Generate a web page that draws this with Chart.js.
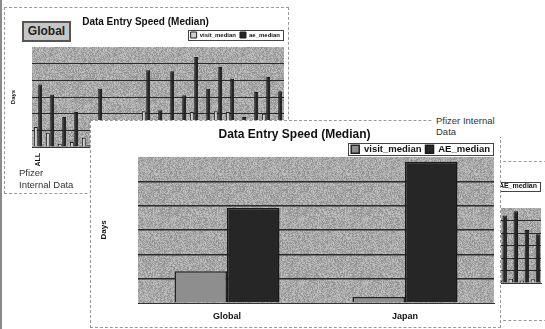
<!DOCTYPE html>
<html><head><meta charset="utf-8">
<script src="https://cdn.jsdelivr.net/npm/chart.js@4.4.1/dist/chart.umd.min.js"></script>
<style>
html,body{margin:0;padding:0;background:#fff;width:545px;height:329px;overflow:hidden;position:relative;font-family:"Liberation Sans",Arial,sans-serif;}
.abs{position:absolute;}
.frame{position:absolute;border:1px dashed #9a9a9a;background:#fff;box-sizing:border-box;}
canvas{display:block}
</style></head><body>

<div class="abs" style="left:0;top:0;width:2px;height:329px;background:#8a8a8a"></div>

<!-- background chart, top left -->
<div class="frame" style="left:4px;top:7px;width:285px;height:187px;z-index:1">
  <div class="abs" style="left:0;top:0;width:283px;height:185px"><canvas id="leftChart"></canvas></div>
  <div class="abs" style="left:17px;top:13px;width:45px;height:17px;border:2px solid #555;background:#c6c6c6;font-weight:bold;font-size:12px;line-height:17px;text-align:center;color:#222">Global</div>
  <div class="abs" style="left:14px;top:159px;font-size:9.5px;line-height:11.5px;color:#333">Pfizer<br>Internal Data</div>
</div>

<!-- background chart, right -->
<div class="frame" style="left:498px;top:161px;width:80px;height:160px;z-index:1"></div>
<div class="abs" style="left:400px;top:162px;width:145px;height:135px;z-index:2"><canvas id="rightChart"></canvas></div>

<!-- front chart -->
<div class="frame" style="left:90px;top:120px;width:411px;height:208px;z-index:3">
  <div class="abs" style="left:0;top:0;width:409px;height:206px"><canvas id="mainChart"></canvas></div>
</div>
<div class="abs" style="left:433px;top:115px;width:68px;font-size:9.5px;line-height:11px;color:#333;background:#fff;z-index:4;padding-left:3px">Pfizer Internal<br>Data</div>

<script>
// ---------------- data ----------------
const mainCategories = ['Global', 'Japan'];
const mainVisitMedian = [1.3, 0.25];
const mainAEMedian = [3.9, 5.8];

const leftCategories = ['ALL','','','','','','','','','','','','','','','','','','','',''];
const leftVisitMedian = [1.2, 0.85, 0.2, 0.3, 0.55, 0.4, 0.5, 0.4, 0.5, 2.15, 1.0, 1.2, 1.0, 2.1, 1.2, 2.15, 2.1, 1.0, 1.2, 2.0, 1.0];
const leftAEMedian = [3.75, 3.15, 1.8, 2.1, 0.1, 3.5, 1.2, 0.8, 1.0, 4.6, 2.2, 4.55, 3.1, 5.4, 3.5, 4.8, 4.1, 1.8, 3.3, 4.2, 3.35];

const rightCategories = ['','','','','','','','','','','',''];
const rightVisitMedian = [0.3, 0.4, 0.3, 0.3, 0.4, 0.3, 0.3, 0.3, 0.2, 0.35, 0.2, 0.3];
const rightAEMedian = [4.5, 5.0, 3.8, 4.2, 5.2, 4.0, 3.6, 4.4, 5.4, 5.75, 4.25, 3.9];

const seriesNames = ['visit_median', 'AE_median'];
const seriesNamesLower = ['visit_median', 'ae_median'];
const yTicks = [0, 1, 2, 3, 4, 5, 6];
const chartTitle = 'Data Entry Speed (Median)';
const yTitle = 'Days';

// ---------------- helpers ----------------
Chart.defaults.font.family = '"Liberation Sans", Arial, sans-serif';
Chart.defaults.color = '#111';

function hash(x, y) {
  let h = (x * 374761393 + y * 668265263) >>> 0;
  h = ((h ^ (h >>> 13)) * 1274126177) >>> 0;
  return ((h ^ (h >>> 16)) >>> 0) / 4294967295;
}
function makePattern(base, amp) {
  const c = document.createElement('canvas');
  c.width = 64; c.height = 64;
  const g = c.getContext('2d');
  const img = g.createImageData(64, 64);
  for (let y = 0; y < 64; y++) for (let x = 0; x < 64; x++) {
    const v = Math.max(0, Math.min(255, Math.round(base + (hash(x, y) - 0.5) * amp)));
    const i = (y * 64 + x) * 4;
    img.data[i] = img.data[i + 1] = img.data[i + 2] = v; img.data[i + 3] = 255;
  }
  g.putImageData(img, 0, 0);
  return g.createPattern(c, 'repeat');
}

const plotBg = {
  id: 'plotBg',
  beforeDraw(chart, args, opts) {
    const { ctx, chartArea: a } = chart;
    ctx.save();
    ctx.fillStyle = makePattern(opts.base, opts.amp);
    ctx.fillRect(a.left, a.top, a.right - a.left, a.bottom - a.top);
    ctx.restore();
  }
};
const legendBox = {
  id: 'legendBox',
  afterInit(chart, args, opts) {
    const l = chart.legend;
    if (!l) return;
    const f = l.fit;
    l.fit = function () { f.call(this); this.height += opts.extra; };
  },
  afterDraw(chart, args, opts) {
    const l = chart.legend;
    if (!l || !l.legendHitBoxes || !l.legendHitBoxes.length) return;
    const hb = l.legendHitBoxes;
    const x0 = Math.min(...hb.map(b => b.left)) - opts.px;
    const x1 = Math.max(...hb.map(b => b.left + b.width)) + opts.px;
    const y0 = Math.min(...hb.map(b => b.top)) - opts.py;
    const y1 = Math.max(...hb.map(b => b.top + b.height)) + opts.py;
    const ctx = chart.ctx;
    ctx.save();
    ctx.strokeStyle = '#444'; ctx.lineWidth = 1;
    ctx.strokeRect(Math.round(x0) + 0.5, Math.round(y0) + 0.5, Math.round(x1 - x0), Math.round(y1 - y0));
    ctx.restore();
  }
};

function barChart(id, cfg) {
  return new Chart(document.getElementById(id), {
    type: 'bar',
    data: {
      labels: cfg.labels,
      datasets: [
        { label: cfg.names[0], data: cfg.visit, backgroundColor: cfg.visitColor, borderColor: '#222', borderWidth: cfg.bw,
          categoryPercentage: cfg.catPct, barPercentage: cfg.barPct },
        { label: cfg.names[1], data: cfg.ae, backgroundColor: '#262626', borderColor: '#1a1a1a', borderWidth: cfg.bw,
          categoryPercentage: cfg.catPct, barPercentage: cfg.barPct }
      ]
    },
    options: {
      responsive: true, maintainAspectRatio: false, animation: false,
      layout: { padding: cfg.padding },
      plugins: {
        tooltip: { enabled: false },
        plotBg: { base: 168, amp: 55 },
        legendBox: { px: 3, py: cfg.legendPy, extra: cfg.legendExtra },
        title: { display: cfg.showTitle, text: chartTitle, font: { size: cfg.titleSize, weight: 'bold' }, color: '#111', padding: cfg.titlePad },
        legend: {
          display: true, position: 'top', align: 'end',
          labels: { boxWidth: cfg.box, boxHeight: cfg.box, font: { size: cfg.legendSize, weight: 'bold' }, padding: cfg.legendPad, color: '#111' }
        }
      },
      scales: {
        x: {
          grid: { display: false, drawTicks: false },
          border: { display: true, color: '#333', width: 1 },
          ticks: { display: cfg.showX, font: { size: cfg.xSize, weight: 'bold' }, color: '#111', padding: cfg.xPad,
                   maxRotation: cfg.rot, minRotation: cfg.rot, autoSkip: false },
          afterFit: s => { s.height = cfg.xHeight; s.paddingLeft = 0; s.paddingRight = 0; }
        },
        y: {
          min: yTicks[0], max: yTicks[yTicks.length - 1],
          afterBuildTicks: s => { s.ticks = yTicks.map(v => ({ value: v })); },
          ticks: { display: false },
          grid: { color: c => (c.tick && (c.tick.value === 0 || c.tick.value === 6)) ? 'rgba(0,0,0,0)' : '#2a2a2a', lineWidth: cfg.gw, drawTicks: false },
          border: { display: false },
          title: { display: cfg.showY, text: yTitle, font: { size: cfg.ySize, weight: 'bold' }, color: '#111', padding: cfg.yPad },
          afterFit: s => { s.width = cfg.yWidth; }
        }
      }
    },
    plugins: [plotBg, legendBox]
  });
}

barChart('mainChart', {
  labels: mainCategories, visit: mainVisitMedian, ae: mainAEMedian, names: seriesNames,
  visitColor: '#8e8e8e', bw: 1.5, catPct: 0.59, barPct: 1.0,
  padding: { left: 4, right: 6, top: 4, bottom: 6 },
  showTitle: true, titleSize: 12, titlePad: { top: 2, bottom: -1 },
  box: 8, legendSize: 9.5, legendPad: 4, legendPy: 1, legendExtra: -7,
  showX: true, xSize: 9, xPad: 8, rot: 0, xHeight: 18,
  gw: 1.4, showY: true, ySize: 8, yPad: { top: 4, bottom: 4 }, yWidth: 43
});

barChart('leftChart', {
  labels: leftCategories, visit: leftVisitMedian, ae: leftAEMedian, names: seriesNamesLower,
  visitColor: '#cfcfcf', bw: 1, catPct: 0.72, barPct: 0.9,
  padding: { left: 2, right: 4, top: 4, bottom: 4 },
  showTitle: true, titleSize: 10, titlePad: { top: 4, bottom: 0 },
  box: 6, legendSize: 6, legendPad: 4, legendPy: 2, legendExtra: -1,
  showX: true, xSize: 7, xPad: 6, rot: 90, xHeight: 42,
  gw: 1, showY: true, ySize: 6, yPad: { top: 3, bottom: 3 }, yWidth: 25
});

barChart('rightChart', {
  labels: rightCategories, visit: rightVisitMedian, ae: rightAEMedian, names: seriesNames,
  visitColor: '#cfcfcf', bw: 1, catPct: 0.9, barPct: 0.9,
  padding: { left: 8, right: 4, top: 17, bottom: 4 },
  showTitle: false, titleSize: 10, titlePad: { top: 4, bottom: 2 },
  box: 6, legendSize: 7, legendPad: 4, legendPy: 1, legendExtra: 8,
  showX: false, xSize: 7, xPad: 6, rot: 0, xHeight: 10,
  gw: 1, showY: false, ySize: 6, yPad: { top: 3, bottom: 3 }, yWidth: 0
});
</script>
</body></html>
